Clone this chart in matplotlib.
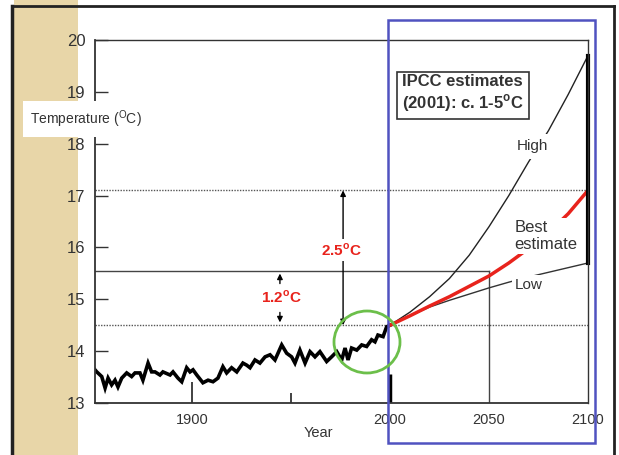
import matplotlib.pyplot as plt
from matplotlib.patches import Rectangle, Ellipse
from matplotlib.lines import Line2D

plt.rcParams['font.family'] = ['Liberation Sans', 'DejaVu Sans']
plt.rcParams['mathtext.fontset'] = 'custom'
plt.rcParams['mathtext.rm'] = 'Liberation Sans'
plt.rcParams['mathtext.bf'] = 'Liberation Sans:bold'

obs_years = [1851.0, 1851.9, 1854.4, 1856.1, 1857.6, 1859.4, 1861.1, 1862.6, 1864.5, 1867.0,
             1869.5, 1871.2, 1873.7, 1875.2, 1877.8, 1879.6, 1881.3, 1883.8, 1885.3, 1888.9,
             1890.4, 1892.9, 1894.8, 1897.3, 1899.0, 1900.5, 1902.4, 1905.5, 1908.1, 1910.6,
             1913.1, 1915.6, 1917.5, 1920.0, 1922.6, 1925.7, 1927.6, 1929.3, 1931.8, 1934.3,
             1936.9, 1939.4, 1941.9, 1945.3, 1947.8, 1950.3, 1952.0, 1954.5, 1957.1, 1959.6,
             1962.1, 1964.6, 1968.0, 1970.5, 1973.1, 1975.6, 1977.3, 1978.8, 1980.6, 1983.2,
             1985.7, 1988.2, 1990.7, 1992.4, 1993.9, 1996.5, 1998.3, 2000.0]
obs_temps = [13.64, 13.60, 13.51, 13.29, 13.48, 13.35, 13.44, 13.31, 13.48, 13.58,
             13.51, 13.58, 13.58, 13.44, 13.77, 13.60, 13.60, 13.54, 13.60, 13.54,
             13.60, 13.48, 13.41, 13.68, 13.60, 13.64, 13.54, 13.39, 13.44, 13.41,
             13.48, 13.70, 13.58, 13.68, 13.60, 13.77, 13.73, 13.68, 13.83, 13.77,
             13.89, 13.93, 13.83, 14.12, 13.96, 13.89, 13.77, 14.02, 13.77, 13.99,
             13.89, 13.99, 13.80, 13.89, 13.99, 13.83, 14.06, 13.83, 14.06, 14.02,
             14.12, 14.09, 14.22, 14.18, 14.31, 14.28, 14.47, 14.50]

## IPCC 2001 projections
proj_years = [2000, 2010, 2020, 2030, 2040, 2050, 2060, 2070, 2080, 2090, 2100]
high_temps = [14.5, 14.75, 15.05, 15.4, 15.85, 16.4, 17.0, 17.65, 18.25, 18.95, 19.7]
best_temps = [14.5, 14.68, 14.87, 15.05, 15.25, 15.45, 15.7, 15.98, 16.28, 16.65, 17.1]
low_temps = [14.5, 14.68, 14.85, 14.98, 15.1, 15.22, 15.33, 15.43, 15.52, 15.61, 15.7]

base_temp = 14.5    # present day
mid_temp = 15.55    # +1.2 C
top_temp = 17.1     # +2.5 C

yticks = [13, 14, 15, 16, 17, 18, 19, 20]
xticks = [1900, 2000, 2050, 2100]

W, H = 619, 455
fig = plt.figure(figsize=(W / 100, H / 100), dpi=100)

def fx(px):
    return px / W

def fy(py):
    return 1 - py / H

# tan strip and outer frame
fig.patches.append(Rectangle((fx(14), 0), fx(78) - fx(14), 1, transform=fig.transFigure,
                             facecolor='#e8d6a8', edgecolor='none', zorder=-5))
fig.lines.append(Line2D([fx(12), fx(12)], [0, fy(6)], transform=fig.transFigure, color='#222', lw=2.5))
fig.lines.append(Line2D([fx(12), fx(614)], [fy(6), fy(6)], transform=fig.transFigure, color='#222', lw=2))
fig.lines.append(Line2D([fx(614), fx(614)], [0, fy(6)], transform=fig.transFigure, color='#222', lw=2))

ax = fig.add_axes([fx(95), fy(403), fx(588) - fx(95), fy(40) - fy(403)])
ax.set_xlim(1851, 2100)
ax.set_ylim(13, 20)
for s in ax.spines.values():
    s.set_color('#333')
    s.set_linewidth(1)
ax.spines['left'].set_linewidth(1.3)
ax.spines['bottom'].set_linewidth(1.3)

ax.set_yticks(yticks)
ax.set_xticks(xticks)
ax.tick_params(axis='y', direction='in', length=9, width=1, labelsize=12, pad=7, colors='#333')
ax.tick_params(axis='x', length=0, labelsize=10.5, pad=7, colors='#333')
ax.tick_params(labelcolor='#333')

# reference lines
ax.axhline(top_temp, color='#555', lw=1, ls=(0, (1, 1)))
ax.axhline(base_temp, color='#555', lw=1, ls=(0, (1, 1)))
ax.plot([1851, 2050], [mid_temp, mid_temp], color='#444', lw=1)
ax.plot([2050, 2050], [13, mid_temp], color='#444', lw=1)
ax.vlines(1900, 13, 13.4, color='#333', lw=1.3)
ax.vlines(1950, 13, 13.2, color='#333', lw=1.3)
ax.vlines(2000, 13, 13.55, color='black', lw=2.5)

# observations and projections
ax.plot(obs_years, obs_temps, color='black', lw=2.6, solid_joinstyle='miter')
ax.plot(proj_years, high_temps, color='#222', lw=1)
ax.plot(proj_years, low_temps, color='#333', lw=1)
ax.plot(proj_years, best_temps, color='#e8231c', lw=2.5)
ax.plot([2100, 2100], [low_temps[-1], high_temps[-1]], color='black', lw=3, clip_on=False)

ax.text(2072, 17.95, 'High', ha='center', va='center', fontsize=11, color='#333',
        bbox=dict(facecolor='white', edgecolor='none', pad=4))
ax.text(2063, 16.22, 'Best\nestimate', ha='left', va='center', fontsize=12, color='#333',
        linespacing=1.1, bbox=dict(facecolor='white', edgecolor='none', pad=2))
ax.text(2063, 15.28, 'Low', ha='left', va='center', fontsize=11, color='#333',
        bbox=dict(facecolor='white', edgecolor='none', pad=2))

# temperature rise arrows
ax.annotate('', xy=(1944.4, mid_temp), xytext=(1944.4, mid_temp - 0.3),
            arrowprops=dict(arrowstyle='-|>', color='black', lw=1, mutation_scale=8))
ax.annotate('', xy=(1944.4, base_temp), xytext=(1944.4, base_temp + 0.3),
            arrowprops=dict(arrowstyle='-|>', color='black', lw=1, mutation_scale=8))
ax.text(1945.3, 15.04, r'1.2$^{\mathbf{o}}$C', ha='center', va='center', fontsize=11,
        fontweight='bold', color='#e8231c')
ax.annotate('', xy=(1976.3, top_temp), xytext=(1976.3, base_temp),
            arrowprops=dict(arrowstyle='<|-|>', color='black', lw=1, mutation_scale=8,
                            shrinkA=0, shrinkB=0))
ax.text(1975.5, 15.95, r'2.5$^{\mathbf{o}}$C', ha='center', va='center', fontsize=11,
        fontweight='bold', color='#e8231c',
        bbox=dict(facecolor='white', edgecolor='none', pad=2))

# annotations on the figure
fig.text(fx(86), fy(119), r'Temperature ($^{\mathrm{O}}$C)', ha='center', va='center',
         fontsize=10, color='#333', bbox=dict(facecolor='white', edgecolor='none', pad=5))
fig.text(fx(318), fy(433), 'Year', ha='center', va='center', fontsize=10.5, color='#333')
fig.text(fx(402), fy(94), 'IPCC estimates\n' + r'(2001): c. 1-5$^{\mathbf{o}}$C', ha='left',
         va='center', fontsize=12, fontweight='bold', color='#333', linespacing=1.15,
         bbox=dict(boxstyle='square,pad=0.3', facecolor='white', edgecolor='#333', lw=1.2))
fig.patches.append(Rectangle((fx(388), fy(443)), fx(595) - fx(388), fy(20) - fy(443),
                             transform=fig.transFigure, facecolor='none',
                             edgecolor='#5052c0', lw=1.8, zorder=2))
fig.patches.append(Ellipse((fx(367), fy(342)), 66 / W, 62 / H, transform=fig.transFigure,
                           facecolor='none', edgecolor='#6cbf4a', lw=2, zorder=2))

fig.savefig('out.png', dpi=100)
